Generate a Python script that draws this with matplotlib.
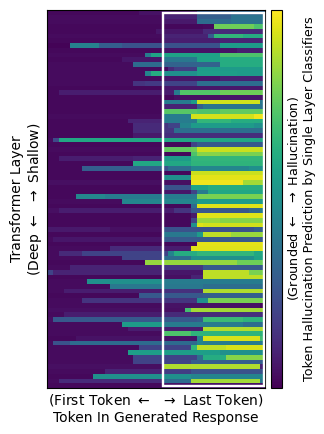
import numpy as np
import matplotlib
matplotlib.use("Agg")
import matplotlib.pyplot as plt
from matplotlib.patches import Rectangle

n_tokens = 38
xlabel_text = "(First Token $\\leftarrow$  $\\rightarrow$ Last Token)\nToken In Generated Response"
ylabel_text = "Transformer Layer\n(Deep $\\leftarrow$  $\\rightarrow$ Shallow)"
cbar_text = "(Grounded $\\leftarrow$  $\\rightarrow$ Hallucination)\nToken Hallucination Prediction by Single Layer Classifiers"

# token index where each run of equal colour begins, one list per layer
run_starts = [
    [0, 16, 20, 26, 32], [0, 20, 26, 32], [0, 20, 26, 32], [0, 27, 29, 36], [0, 19, 27],
    [0, 20, 28, 29, 34], [0, 20, 30], [0, 4, 9, 13, 20, 30], [0, 20, 33], [0, 17, 18, 30],
    [0, 13, 20, 26, 30], [0, 15, 20, 30], [0, 21, 22, 26], [0, 17, 18, 20, 26, 33], [0, 20, 30],
    [0, 15, 17, 20, 26], [0, 20, 30], [0, 2, 22, 23, 30], [0, 22, 30], [0, 2, 20, 25, 26, 37],
    [0, 20, 26, 27], [0, 20, 26, 30], [0, 20, 25, 36], [0, 14, 20, 26, 32], [0, 15, 20, 21, 23, 25, 36],
    [0, 15, 20, 22], [0, 15, 20], [0, 1, 2], [0, 25, 26], [0, 20, 25, 26],
    [0, 25, 26, 30], [0, 2, 15, 20, 25], [0, 15, 25], [0, 6, 20, 21, 25, 35], [0, 25],
    [0, 20, 25], [0, 25, 34], [0, 20, 25, 28], [0, 20, 25, 26, 28], [0, 5, 10, 26],
    [0, 13, 26], [0, 25, 26], [0, 2, 22, 25, 35, 37], [0, 25, 26], [0, 25, 26, 30],
    [0, 25, 26, 27], [0, 11, 20, 36], [0, 20, 26, 27, 32], [0, 1, 20], [0, 26],
    [0, 11, 20, 25], [0, 2, 6, 21, 22, 26, 36], [0, 13, 20, 25, 36], [0, 17, 33], [0, 4, 20, 27],
    [0, 1, 20, 27, 35], [0, 20, 25, 27], [0, 7, 20], [0, 11, 27], [0, 3, 20, 27],
    [0, 16, 27], [0, 6, 26, 28], [0, 20, 37], [0, 24, 25], [0, 3, 20, 30],
    [0, 1, 26, 27, 34], [0, 13, 20, 34], [0, 14, 27], [0, 20, 25], [0, 5, 26, 27, 37],
    [0, 1, 4, 26, 27], [0, 16, 25, 26, 31], [0, 14, 30], [0, 15, 26, 27, 31], [0, 15, 25],
    [0, 20, 37], [0, 10, 20, 25], [0, 8, 25], [0, 2, 20, 25, 37], [0, 20, 30],
]

# hallucination probability of each run, matching run_starts
run_probs = [
    [0.02, 0.05, 0.08, 0.28, 0.33], [0.03, 0.1, 0.3, 0.38], [0.03, 0.07, 0.35, 0.38], [0.02, 0.03, 0.78, 0.72], [0.02, 0.06, 0.12],
    [0.03, 0.1, 0.3, 0.66, 0.62], [0.02, 0.08, 0.1], [0.01, 0.44, 0.3, 0.25, 0.25, 0.55], [0.02, 0.05, 0.08], [0.03, 0.42, 0.58, 0.72],
    [0.02, 0.06, 0.4, 0.58, 0.62], [0.03, 0.35, 0.32, 0.62], [0.03, 0.12, 0.18, 0.55], [0.03, 0.45, 0.62, 0.5, 0.56, 0.55], [0.03, 0.06, 0.09],
    [0.03, 0.15, 0.17, 0.2, 0.36], [0.02, 0.06, 0.07], [0.02, 0.08, 0.42, 0.73, 0.78], [0.02, 0.04, 0.06], [0.02, 0.02, 0.42, 0.55, 0.93, 0.4],
    [0.02, 0.1, 0.3, 0.38], [0.02, 0.74, 0.72, 0.76], [0.03, 0.42, 0.93, 0.98], [0.02, 0.1, 0.42, 0.66, 0.62], [0.02, 0.12, 0.15, 0.2, 0.45, 0.55, 0.5],
    [0.02, 0.12, 0.16, 0.36], [0.02, 0.07, 0.13], [0.03, 0.22, 0.6], [0.02, 0.2, 0.28], [0.03, 0.76, 0.78, 0.92],
    [0.02, 0.72, 0.82, 0.8], [0.02, 0.08, 0.1, 0.55, 0.66], [0.02, 0.6, 0.65], [0.02, 0.3, 0.25, 0.36, 0.46, 0.5], [0.02, 0.92],
    [0.02, 0.5, 0.96], [0.04, 0.98, 0.86], [0.02, 0.25, 0.58, 0.62], [0.02, 0.06, 0.2, 0.42, 0.6], [0.02, 0.46, 0.42, 0.8],
    [0.03, 0.46, 0.55], [0.02, 0.35, 0.95], [0.04, 0.08, 0.15, 0.27, 0.33, 0.42], [0.02, 0.07, 0.95], [0.02, 0.2, 0.85, 0.82],
    [0.02, 0.5, 0.95, 0.93], [0.07, 0.04, 0.25, 0.3], [0.02, 0.4, 0.55, 0.9, 0.85], [0.03, 0.06, 0.28], [0.02, 0.96],
    [0.03, 0.12, 0.08, 0.95], [0.03, 0.12, 0.2, 0.45, 0.62, 0.66, 0.6], [0.03, 0.2, 0.36, 0.5, 0.58], [0.02, 0.84, 0.78], [0.03, 0.1, 0.16, 0.28],
    [0.2, 0.1, 0.06, 0.9, 0.8], [0.02, 0.04, 0.1, 0.9], [0.03, 0.5, 0.42], [0.03, 0.4, 0.36], [0.03, 0.08, 0.14, 0.88],
    [0.02, 0.28, 0.3], [0.03, 0.15, 0.5, 0.8], [0.03, 0.05, 0.02], [0.04, 0.7, 0.86], [0.03, 0.08, 0.12, 0.14],
    [0.04, 0.28, 0.3, 0.68, 0.65], [0.03, 0.55, 0.42, 0.36], [0.03, 0.08, 0.88], [0.03, 0.72, 0.65], [0.02, 0.05, 0.44, 0.94, 0.7],
    [0.03, 0.25, 0.35, 0.45, 0.42], [0.03, 0.2, 0.66, 0.9, 0.94], [0.03, 0.56, 0.5], [0.03, 0.2, 0.36, 0.62, 0.82], [0.03, 0.2, 0.3],
    [0.04, 0.88, 0.1], [0.03, 0.1, 0.18, 0.25], [0.02, 0.5, 0.45], [0.03, 0.12, 0.35, 0.86, 0.4], [0.02, 0.05, 0.05],
]

heat = np.zeros((len(run_starts), n_tokens))
for i, (starts, probs) in enumerate(zip(run_starts, run_probs)):
    for j, s in enumerate(starts):
        end = starts[j + 1] if j + 1 < len(starts) else n_tokens
        heat[i, s:end] = probs[j]

plt.rcParams['font.family'] = 'DejaVu Sans'
fig = plt.figure(figsize=(3.24, 4.34), dpi=100)
ax = fig.add_axes([46.5 / 324, 1 - 388 / 434, 218.5 / 324, 378 / 434])
im = ax.imshow(heat, cmap='viridis', vmin=0, vmax=1, aspect='auto', interpolation='nearest')
ax.set_xticks([])
ax.set_yticks([])
ax.set_xlabel(xlabel_text, fontsize=10, labelpad=3, linespacing=1.25)
ax.set_ylabel(ylabel_text, fontsize=10, labelpad=2, linespacing=1.15)
for s in ax.spines.values():
    s.set_linewidth(0.8)

# white box around the last tokens
ax.add_patch(Rectangle((19.8, 0.03), 17.45, 78.97, fill=False, edgecolor='white', lw=1.7, clip_on=False, zorder=5))

cax = fig.add_axes([270.5 / 324, 1 - 388 / 434, 11 / 324, 378 / 434])
cbar = fig.colorbar(im, cax=cax)
cbar.set_ticks([])
cbar.set_label(cbar_text, fontsize=9.2, labelpad=3, linespacing=1.2)

plt.savefig("out.png", dpi=100)
